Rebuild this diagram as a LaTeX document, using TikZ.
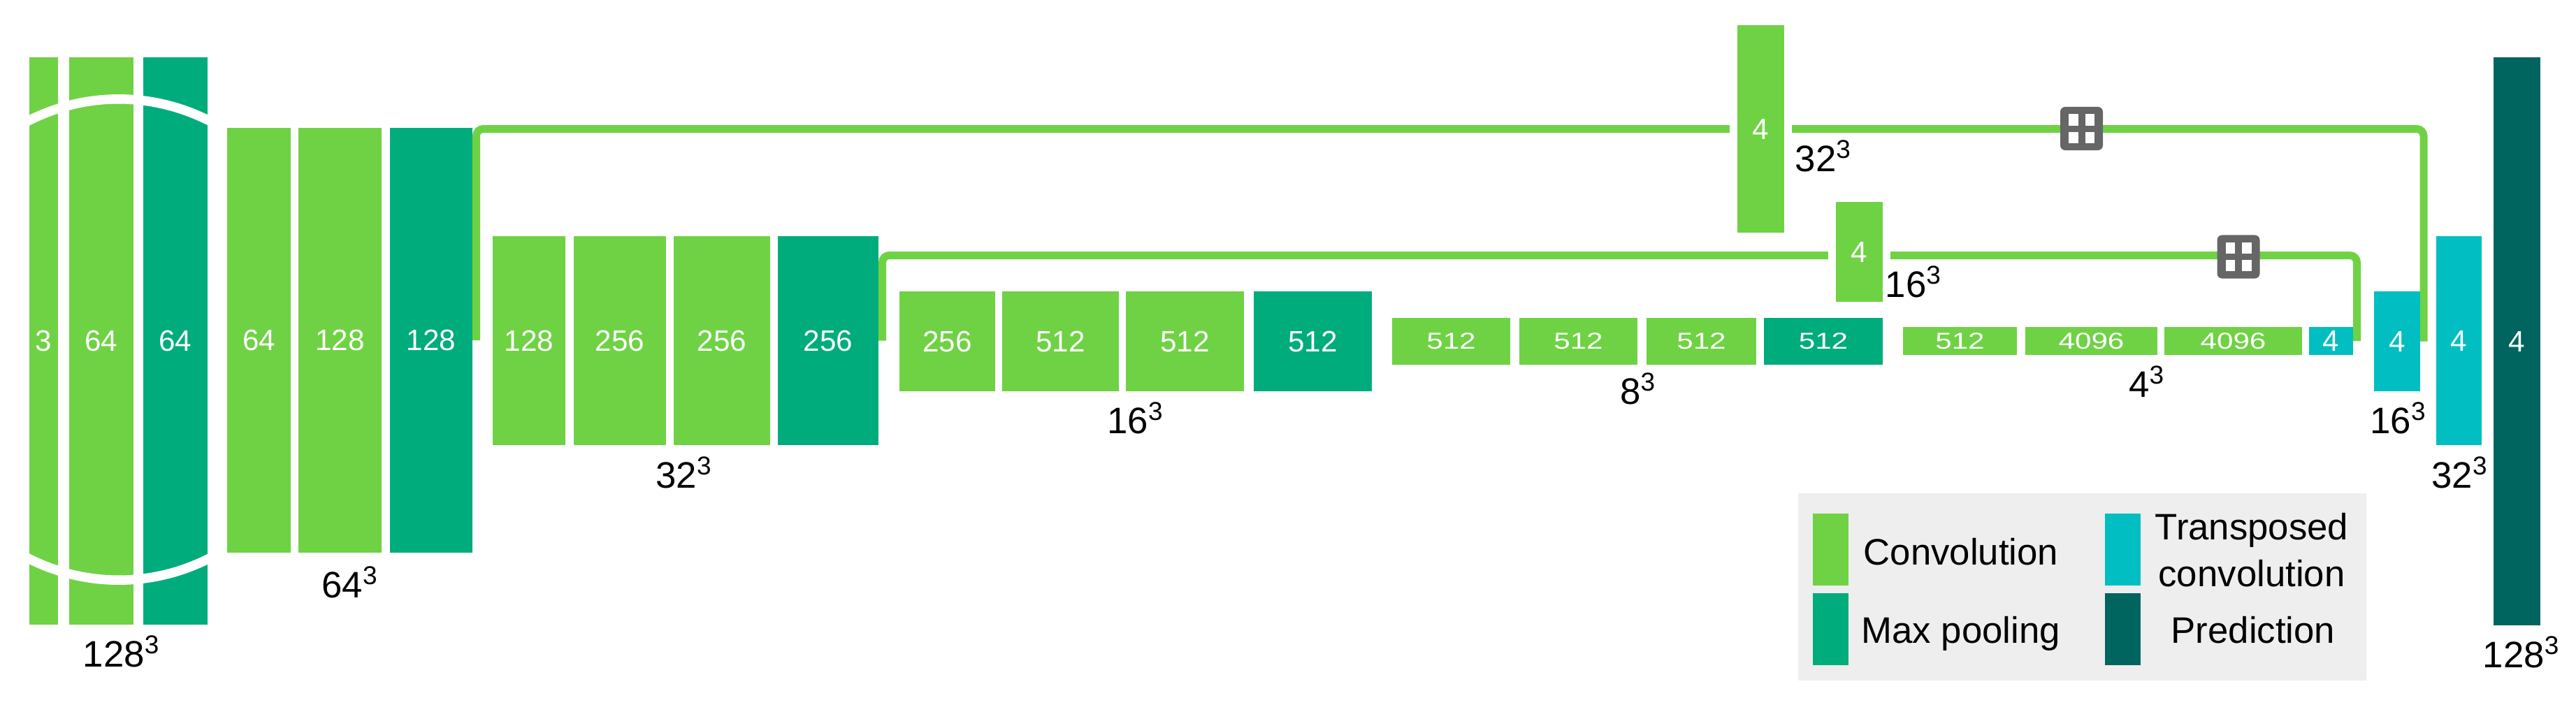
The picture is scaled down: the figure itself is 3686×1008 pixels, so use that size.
\documentclass[tikz,border=0pt]{standalone}
\usepackage{graphicx}
\usepackage{fontspec}
\setmainfont{Liberation Sans}
\definecolor{conv}{RGB}{111,210,68}
\definecolor{pool}{RGB}{0,172,124}
\definecolor{tconv}{RGB}{0,190,193}
\definecolor{pred}{RGB}{0,101,94}
\definecolor{pgray}{RGB}{102,102,102}
\definecolor{legbg}{RGB}{238,238,238}
\pgfdeclarelayer{bgl}
\pgfdeclarelayer{linel}
\pgfsetlayers{bgl,linel,main}
% optional opts, name, x1, x2, y1, y2, colour, text
\newcommand\blk[8][]{%
  \node[blkbox, fill=#7, minimum width={(#4-#3)*0.01cm}, minimum height={(#6-#5)*0.01cm}, #1]
    (#2) at ({(#3+#4)/2},{(#5+#6)/2}) {#8};}
\newcommand\sq[1]{\scalebox{1}[0.78]{#1}}
\begin{document}
\begin{tikzpicture}[x=0.01cm,y=-0.01cm,
  blkbox/.style={rectangle, inner sep=0pt, outer sep=0pt, text=white, font=\fontsize{12}{14}\selectfont},
  sizelbl/.style={inner sep=0pt, anchor=base, font=\fontsize{15}{18}\selectfont},
  skip/.style={draw=conv, line width=0.11cm, rounded corners=0.1cm},
  legtxt/.style={inner sep=0pt, font=\fontsize{15}{19}\selectfont},
  plusbox/.style={rectangle, rounded corners=0.07cm, fill=pgray, minimum width=0.61cm, minimum height=0.62cm, inner sep=0pt,
    path picture={
      \fill[white, sharp corners] ([shift={(-0.185cm,-0.205cm)}]path picture bounding box.center) rectangle ([shift={(0.185cm,0.205cm)}]path picture bounding box.center);
      \fill[pgray, sharp corners] ([shift={(-0.05cm,-0.205cm)}]path picture bounding box.center) rectangle ([shift={(0.05cm,0.205cm)}]path picture bounding box.center);
      \fill[pgray, sharp corners] ([shift={(-0.185cm,-0.045cm)}]path picture bounding box.center) rectangle ([shift={(0.185cm,0.045cm)}]path picture bounding box.center);
    }}]
\useasboundingbox (0,0) rectangle (3686,1008);
\begin{pgfonlayer}{bgl}
  \fill[white] (0,0) rectangle (3686,1008);
\end{pgfonlayer}

% encoder 128^3
\blk{c1}{42}{83}{82}{894}{conv}{3}
\blk{c2}{99}{191}{82}{894}{conv}{64}
\blk{c3}{205}{297}{82}{894}{pool}{64}
\begin{scope}
  \clip (30,0) rectangle (310,1008);
  \draw[white, line width=0.135cm] (170,486) ellipse [x radius=3.11cm, y radius=3.44cm];
\end{scope}
% 64^3
\blk{c4}{325}{416}{183}{791}{conv}{64}
\blk{c5}{427}{546}{183}{791}{conv}{128}
\blk{c6}{558}{676}{183}{791}{pool}{128}
% 32^3
\blk{c7}{705}{809}{338}{637}{conv}{128}
\blk{c8}{821}{953}{338}{637}{conv}{256}
\blk{c9}{964}{1102}{338}{637}{conv}{256}
\blk{c10}{1113}{1257}{338}{637}{pool}{256}
% 16^3
\blk{c11}{1287}{1424}{417}{560}{conv}{256}
\blk{c12}{1434}{1601}{417}{560}{conv}{512}
\blk{c13}{1611}{1780}{417}{560}{conv}{512}
\blk{c14}{1794}{1963}{417}{560}{pool}{512}
% 8^3
\blk{c15}{1992}{2161}{455}{522}{conv}{\sq{512}}
\blk{c16}{2174}{2343}{455}{522}{conv}{\sq{512}}
\blk{c17}{2356}{2513}{455}{522}{conv}{\sq{512}}
\blk{c18}{2524}{2694}{455}{522}{pool}{\sq{512}}
% 4^3
\blk{c19}{2723}{2886}{468}{508}{conv}{\sq{512}}
\blk{c20}{2898}{3087}{468}{508}{conv}{\sq{4096}}
\blk{c21}{3097}{3294}{468}{508}{conv}{\sq{4096}}
\blk{c22}{3304}{3367}{468}{508}{tconv}{4}
% decoder
\blk{u1}{3397}{3463}{417}{560}{tconv}{4}
\blk{u2}{3486}{3551}{338}{637}{tconv}{4}
\blk{u3}{3568}{3635}{82}{895}{pred}{4}
% skip branches
\blk{b1}{2486}{2553}{36}{333}{conv}{4}
\blk{b2}{2627}{2694}{289}{432}{conv}{4}

% skip connections
\begin{pgfonlayer}{linel}
  \draw[skip] ([xshift=0.055cm]c6.east) |- (b1.center) -| ([xshift=0.05cm]u1.east);
  \draw[skip] ([xshift=0.055cm]c10.east) |- ([yshift=-0.05cm]b2.center) -| ([xshift=0.055cm]c22.east);
  \foreach \n in {b1,b2}
    \fill[white] ([xshift=-0.11cm,yshift=0.11cm]\n.north west) rectangle ([xshift=0.11cm,yshift=-0.11cm]\n.south east);
\end{pgfonlayer}
\node[plusbox] (p1) at (2978.5,184) {};
\node[plusbox] (p2) at (3203,367.5) {};

% size labels
\node[sizelbl] (l128a) at (174,954) {128\textsuperscript{3}};
\node[sizelbl] (l64) at (501,855) {64\textsuperscript{3}};
\node[sizelbl] (l32a) at (979,698) {32\textsuperscript{3}};
\node[sizelbl] (l16a) at (1625,620) {16\textsuperscript{3}};
\node[sizelbl] (l8) at (2344,578) {8\textsuperscript{3}};
\node[sizelbl] (l4) at (3072,568) {4\textsuperscript{3}};
\node[sizelbl, anchor=base west] (l32b) at (2568,245) {32\textsuperscript{3}};
\node[sizelbl, anchor=base west] (l16b) at (2697,425) {16\textsuperscript{3}};
\node[sizelbl] (l16c) at (3432,620) {16\textsuperscript{3}};
\node[sizelbl] (l32c) at (3520,698) {32\textsuperscript{3}};
\node[sizelbl] (l128b) at (3608,955) {128\textsuperscript{3}};

% legend
\node[fill=legbg, minimum width=8.13cm, minimum height=2.68cm, inner sep=0pt, anchor=north west] (leg) at (2572,705) {};
\blk{sw1}{2594}{2645}{735}{838}{conv}{}
\blk{sw2}{2594}{2645}{849}{952}{pool}{}
\blk{sw3}{3012}{3063}{735}{838}{tconv}{}
\blk{sw4}{3012}{3063}{849}{952}{pred}{}
\node[legtxt, anchor=base west] (t1) at (2666,808) {Convolution};
\node[legtxt, anchor=base west] (t2) at (2663,920) {Max pooling};
\node[legtxt, align=center] (t3) at (3222,787) {Transposed\\convolution};
\node[legtxt, anchor=base] (t4) at (3224,920) {Prediction};
\end{tikzpicture}
\end{document}
